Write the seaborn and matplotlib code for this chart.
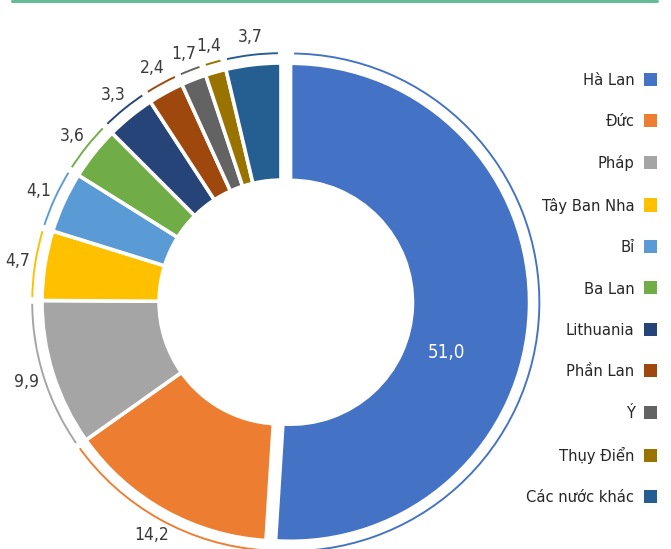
import numpy as np
import matplotlib
matplotlib.use("Agg")
import matplotlib.pyplot as plt
from matplotlib.patches import Patch
from matplotlib.lines import Line2D
from matplotlib import font_manager
from matplotlib.font_manager import FontProperties
import seaborn as sns

countries = ["Hà Lan", "Đức", "Pháp", "Tây Ban Nha", "Bỉ", "Ba Lan",
             "Lithuania", "Phần Lan", "Ý", "Thụy Điển", "Các nước khác"]
shares = [51.0, 14.2, 9.9, 4.7, 4.1, 3.6, 3.3, 2.4, 1.7, 1.4, 3.7]
colors = ["#4472C4", "#ED7D31", "#A5A5A5", "#FFC000", "#5B9BD5", "#70AD47",
          "#264478", "#9E480E", "#636363", "#997300", "#255E91"]

sns.set_theme(style="white")
plt.rcParams["font.family"] = ["DejaVu Sans"]

# find a condensed / narrow regular face if available
cands = []
for f in font_manager.fontManager.ttflist:
    nm = (f.name + " " + str(f.fname)).lower()
    cond = ("condensed" in nm or "narrow" in nm or
            str(f.stretch) in ("condensed", "semi-condensed", "extra-condensed"))
    if cond and f.style == "normal" and f.weight in (400, "normal", "regular") \
            and "bold" not in nm and "oblique" not in nm and "light" not in nm \
            and "semi" not in str(f.fname).lower().split("/")[-1].replace("semi-condensed", ""):
        pri = 0 if "dejavu" in nm else (1 if "roboto" in nm else (2 if "liberation" in nm else 3))
        cands.append((pri, f.fname))
cands.sort()
if cands:
    FP = lambda size: FontProperties(fname=cands[0][1], size=size)
else:
    FP = lambda size: FontProperties(family="DejaVu Sans", stretch="condensed", size=size)

W, H = 671, 549
fig = plt.figure(figsize=(W / 100, H / 100), dpi=100)
ax = fig.add_axes([0, 0, 1, 1])
cx, cy, R = 281, 247, 239

palette = sns.color_palette(colors)
explode = [0.04] + [0] * (len(shares) - 1)

# outer thin arcs
outer, _ = ax.pie(shares, radius=1.045, startangle=90, counterclock=False,
                  colors=palette, explode=explode,
                  wedgeprops=dict(width=0.008, edgecolor="none"))
# main ring
wedges, _ = ax.pie(shares, radius=1.0, startangle=90, counterclock=False,
                   colors=palette, explode=explode,
                   wedgeprops=dict(width=0.49, edgecolor="white", linewidth=2.6))

ax.set_aspect("equal", adjustable="box")
ax.set_xlim(-cx / R, (W - cx) / R)
ax.set_ylim(-cy / R, (H - cy) / R)
ax.axis("off")

# white gaps in outer arcs at slice boundaries
for w in outer:
    for th in (w.theta1, w.theta2):
        a = np.deg2rad(th)
        x0, y0 = w.center
        ax.plot([x0 + 1.02 * np.cos(a), x0 + 1.07 * np.cos(a)],
                [y0 + 1.02 * np.sin(a), y0 + 1.07 * np.sin(a)],
                color="white", lw=4.5, solid_capstyle="butt", zorder=3)

# labels
for i, (w, v) in enumerate(zip(wedges, shares)):
    txt = f"{v:.1f}".replace(".", ",")
    if i == 0:
        a = np.deg2rad(-18)
        x0, y0 = w.center
        ax.text(x0 + 0.685 * np.cos(a), y0 + 0.685 * np.sin(a), txt,
                color="white", fontproperties=FP(13.5), ha="center", va="center")
    else:
        a = np.deg2rad((w.theta1 + w.theta2) / 2)
        ax.text(1.115 * np.cos(a), 1.115 * np.sin(a), txt,
                color="#3a3a3a", fontproperties=FP(12.5), ha="center", va="center")

handles = [Patch(facecolor=c, edgecolor="none") for c in palette]
leg = fig.legend(handles, countries, loc="upper right",
                 bbox_to_anchor=(664 / W, 1 - 66 / H),
                 markerfirst=False, frameon=False, prop=FP(11.8),
                 handlelength=0.85, handleheight=0.85, handletextpad=0.55,
                 labelspacing=1.60, borderaxespad=0, labelcolor="#262626")

fig.add_artist(Line2D([12 / W, 657 / W], [1 - 1 / H, 1 - 1 / H],
                      color="#66BB99", lw=2.2, transform=fig.transFigure))

fig.savefig("out.png", dpi=100)
